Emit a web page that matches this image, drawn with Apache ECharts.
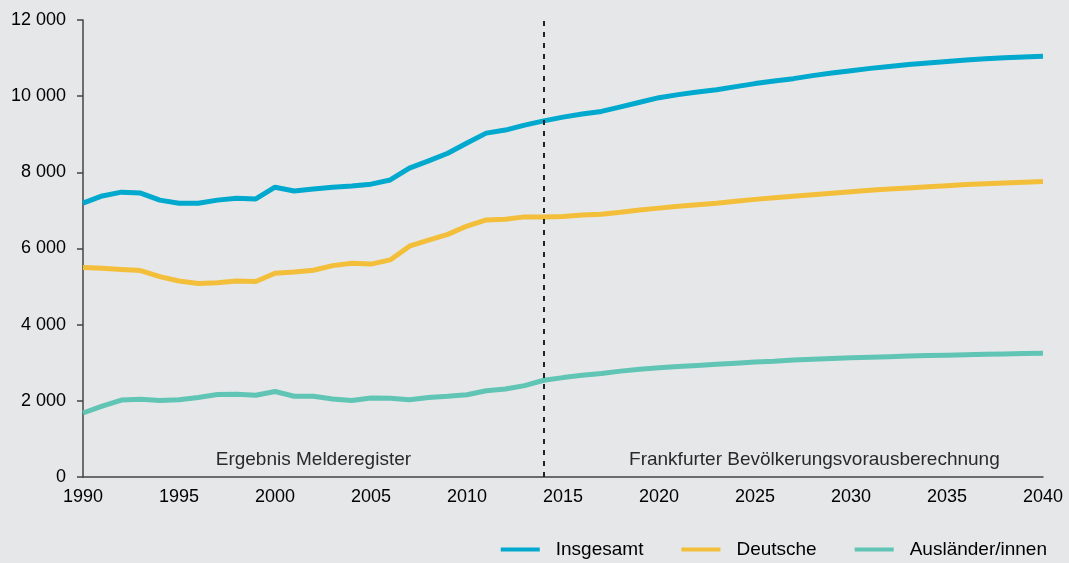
<!DOCTYPE html>
<html>
<head>
<meta charset="utf-8">
<script src="https://cdn.jsdelivr.net/npm/echarts@6/dist/echarts.min.js"></script>
<style>
  html, body { margin: 0; padding: 0; background: #e6e7e8; }
  #chart { width: 1069px; height: 563px; }
</style>
</head>
<body>
<div id="chart"></div>
<script>
// Jahre 1990 - 2040 (bis 2014 Melderegister, danach Vorausberechnung)
var years = []
for (var y = 1990; y <= 2040; y++) years.push(y)

var insgesamt = [
  7190, 7380, 7480, 7455, 7270, 7190, 7190, 7270, 7320, 7300,
  7610, 7510, 7560, 7610, 7640, 7690, 7800, 8110, 8300, 8500,
  8770, 9030, 9110, 9240, 9350, 9450, 9530, 9600, 9720, 9840,
  9960, 10040, 10110, 10170, 10250, 10330, 10400, 10460, 10540, 10610,
  10670, 10730, 10780, 10830, 10870, 10910, 10950, 10980, 11010, 11030,
  11050
]
var deutsche = [
  5500, 5480, 5450, 5420, 5260, 5145, 5080, 5100, 5145, 5135,
  5350, 5380, 5430, 5550, 5610, 5590, 5700, 6060, 6220, 6370,
  6590, 6750, 6770, 6830, 6825, 6840, 6880, 6900, 6950, 7010,
  7060, 7110, 7150, 7190, 7240, 7290, 7330, 7370, 7410, 7450,
  7490, 7530, 7560, 7590, 7620, 7650, 7680, 7700, 7720, 7740,
  7760
]
var auslaender = [
  1680, 1860, 2020, 2040, 2010, 2030, 2090, 2165, 2175, 2145,
  2245, 2120, 2120, 2050, 2010, 2075, 2065, 2030, 2085, 2120,
  2160, 2265, 2310, 2400, 2540, 2610, 2670, 2720, 2780, 2830,
  2870, 2900, 2930, 2960, 2990, 3020, 3040, 3070, 3090, 3110,
  3130, 3145, 3160, 3175, 3190, 3200, 3210, 3220, 3230, 3240,
  3250
]
var seriesNames = ['Insgesamt', 'Deutsche', 'Ausländer/innen']
var colors = ['#00a9cd', '#f3bf3b', '#60c5b5']
var splitYear = 2014

function pairs(values) {
  return values.map(function (v, i) { return [years[i], v] })
}

var font = '"Liberation Sans", Arial, sans-serif'
var chart = echarts.init(document.getElementById('chart'))

var series = [insgesamt, deutsche, auslaender].map(function (vals, i) {
  return {
    name: seriesNames[i],
    type: 'line',
    data: pairs(vals),
    symbol: 'none',
    smooth: false,
    lineStyle: { width: 5, color: colors[i], cap: 'butt' },
    itemStyle: { color: colors[i] },
    z: 3 - i
  }
})

// gestrichelte Trennlinie + Beschriftung der beiden Bereiche
series[0].markLine = {
  silent: true,
  symbol: 'none',
  label: { show: false },
  lineStyle: { color: '#222', width: 2, type: [5, 6] },
  data: [{ xAxis: splitYear }]
}
series[0].markArea = {
  silent: true,
  itemStyle: { color: 'transparent' },
  label: {
    position: 'insideBottom',
    distance: 8,
    fontFamily: font,
    fontSize: 19,
    color: '#2a2a2a'
  },
  data: [
    [{ name: 'Ergebnis Melderegister', xAxis: 1990 }, { xAxis: splitYear }],
    [{ name: 'Frankfurter Bevölkerungsvorausberechnung', xAxis: splitYear, label: { offset: [21, 0] } }, { xAxis: 2040 }]
  ]
}

chart.setOption({
  backgroundColor: '#e6e7e8',
  animation: false,
  grid: { left: 83, right: 26, top: 20, bottom: 86 },
  legend: {
    right: 17,
    bottom: -1,
    icon: 'rect',
    itemWidth: 39,
    itemHeight: 4,
    itemGap: 38,
    data: seriesNames,
    textStyle: { fontFamily: font, fontSize: 19, color: '#000', padding: [0, 0, 0, 11] }
  },
  xAxis: {
    type: 'value',
    min: 1990,
    max: 2040,
    interval: 5,
    axisLine: { lineStyle: { color: '#444', width: 1.5 } },
    axisTick: { show: false },
    splitLine: { show: false },
    axisLabel: {
      margin: 11,
      fontFamily: font,
      fontSize: 18,
      color: '#000',
      formatter: function (v) { return String(v) }
    }
  },
  yAxis: {
    type: 'value',
    min: 0,
    max: 12000,
    interval: 2000,
    axisLine: { show: true, lineStyle: { color: '#444', width: 1.5 } },
    axisTick: { show: true, length: 6, lineStyle: { color: '#444', width: 1.5 } },
    splitLine: { show: false },
    axisLabel: {
      margin: 17,
      fontFamily: font,
      fontSize: 18,
      color: '#000',
      formatter: function (v) {
        return String(v).replace(/\B(?=(\d{3})+(?!\d))/g, ' ')
      }
    }
  },
  series: series
})
</script>
</body>
</html>
